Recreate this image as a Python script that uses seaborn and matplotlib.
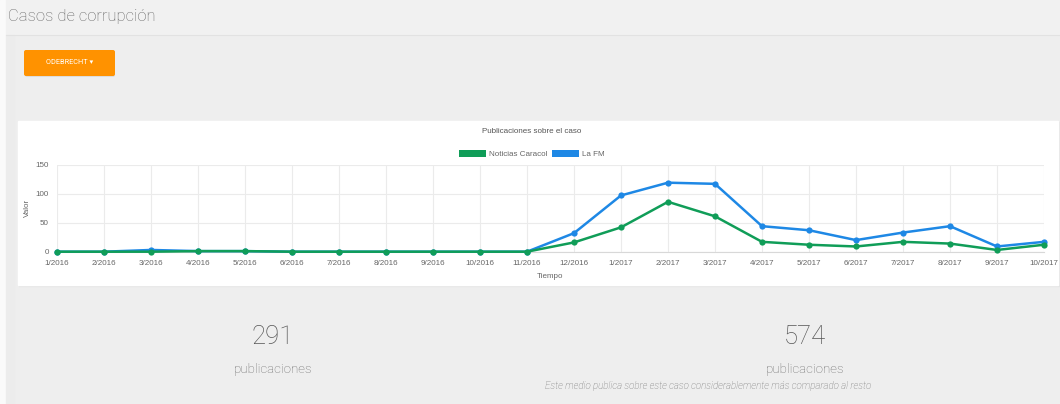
import matplotlib
matplotlib.use("Agg")
import matplotlib.pyplot as plt
from matplotlib.patches import Rectangle, FancyBboxPatch, Patch
import seaborn as sns
import pandas as pd

# ---- data ----
months = ["1/2016", "2/2016", "3/2016", "4/2016", "5/2016", "6/2016", "7/2016",
          "8/2016", "9/2016", "10/2016", "11/2016", "12/2016", "1/2017", "2/2017",
          "3/2017", "4/2017", "5/2017", "6/2017", "7/2017", "8/2017", "9/2017", "10/2017"]
caracol = [0, 0, 0, 1, 1, 0, 0, 0, 0, 0, 0, 16, 42, 86, 61, 17, 12, 9, 17, 14, 3, 12]
lafm = [0, 0, 3, 1, 1, 0, 0, 0, 0, 0, 0, 32, 97, 119, 117, 44, 37, 20, 33, 44, 9, 17]
series_names = ["Noticias Caracol", "La FM"]
series_colors = {"Noticias Caracol": "#109d58", "La FM": "#1e88e5"}
y_ticks = [0, 50, 100, 150]
page_title = "Casos de corrupción"
chart_title = "Publicaciones sobre el caso"
button_label = "ODEBRECHT ▾"
note = "Este medio publica sobre este caso considerablemente más comparado al resto"

df = pd.DataFrame({
    "Tiempo": months * 2,
    "Valor": caracol + lafm,
    "Medio": [series_names[0]] * len(months) + [series_names[1]] * len(months),
})

sns.set_theme(style="white")
plt.rcParams["font.family"] = ["Liberation Sans", "DejaVu Sans"]

W, H = 1060, 404
fig = plt.figure(figsize=(W / 100, H / 100), dpi=100)
fig.patch.set_facecolor("#eeeeee")

# page background axes in pixel coordinates
bg = fig.add_axes([0, 0, 1, 1])
bg.set_xlim(0, W)
bg.set_ylim(H, 0)
bg.axis("off")
bg.add_patch(Rectangle((0, 0), 6, H, color="#fafafa", zorder=0))
bg.add_patch(Rectangle((6, 0), W, 35, color="#f1f1f1", zorder=0))
bg.plot([6, W], [35, 35], color="#e2e2e2", lw=0.8, zorder=1)
bg.add_patch(Rectangle((6, 35), 8, H, color="#ececec", zorder=0))
bg.text(8, 17, page_title, family="Roboto", fontweight="light", fontsize=12,
        color="#666666", va="center", ha="left")
# orange button
bg.add_patch(FancyBboxPatch((25, 51), 90, 26, boxstyle="round,pad=0,rounding_size=2",
                            facecolor="#dcdcdc", edgecolor="none", zorder=1))
bg.add_patch(FancyBboxPatch((24, 50), 91, 26, boxstyle="round,pad=0,rounding_size=2",
                            facecolor="#ff9200", edgecolor="none", zorder=2))
bg.text(69.5, 63, button_label, family=["Roboto", "DejaVu Sans"], fontsize=5.3, color="white",
        ha="center", va="center", zorder=3)
# chart card
bg.add_patch(Rectangle((19, 122), 1040, 164, color="#e4e4e4", zorder=1))
bg.add_patch(Rectangle((18, 121), 1040, 164, color="white", zorder=2))
bg.text(532, 131.5, chart_title, fontsize=5.8, color="#555555", ha="center", va="center", zorder=3)

# stats
totals = [sum(caracol), sum(lafm)]
for cx, tot in zip([273, 805], totals):
    bg.text(cx, 337, f"{tot}", family="Roboto", fontweight="light", fontsize=18.5,
            color="#555555", ha="center", va="center")
    bg.text(cx, 369, "publicaciones", family="Roboto", fontweight="light", fontsize=9.5,
            color="#6a6a6a", ha="center", va="center")
bg.text(708, 386, note, family="Roboto", fontstyle="italic", fontweight="light", fontsize=7,
        color="#707070", ha="center", va="center")

# chart axes
x0, x1 = 57, 1044
y0, y1 = 251.7, 164.7
ax = fig.add_axes([x0 / W, 1 - y0 / H, (x1 - x0) / W, (y0 - y1) / H])
ax.set_facecolor("none")
sns.lineplot(data=df, x="Tiempo", y="Valor", hue="Medio",
             hue_order=[series_names[1], series_names[0]], palette=series_colors,
             marker="o", markersize=4.5, markeredgewidth=0, linewidth=1.8,
             sort=False, ax=ax, legend=False)
for ln in ax.lines:
    ln.set_clip_on(False)
    ln.set_zorder(3)
ax.set_xlim(0, len(months) - 1)
ax.set_ylim(0, 150)
ax.set_yticks(y_ticks)
ax.set_xticks(range(len(months)))
ax.set_xticklabels(months)
ax.grid(True, color="#ebebeb", linewidth=0.8, zorder=0)
ax.set_axisbelow(True)
for s in ["top", "right", "left"]:
    ax.spines[s].set_visible(False)
ax.spines["bottom"].set_color("#d8d8d8")
ax.spines["bottom"].set_linewidth(0.8)
ax.tick_params(axis="y", length=4, color="#ebebeb", width=0.8, pad=2,
               labelsize=5.8, labelcolor="#666666")
ax.tick_params(axis="x", length=0, pad=6, labelsize=5.8, labelcolor="#666666")
ax.set_xlabel("Tiempo", fontsize=5.8, color="#666666", labelpad=4)
ax.set_ylabel("Valor", fontsize=5.8, color="#666666", labelpad=3)

handles = [Patch(facecolor=series_colors[n], edgecolor="none", label=n) for n in series_names]
fig.legend(handles=handles, loc="center", bbox_to_anchor=(532 / W, 1 - 154 / H), ncol=2,
           frameon=False, fontsize=5.8, handlelength=3.4, handleheight=1.0,
           handletextpad=0.4, columnspacing=0.5, labelcolor="#666666")

fig.savefig("out.png", dpi=100, facecolor=fig.get_facecolor())
